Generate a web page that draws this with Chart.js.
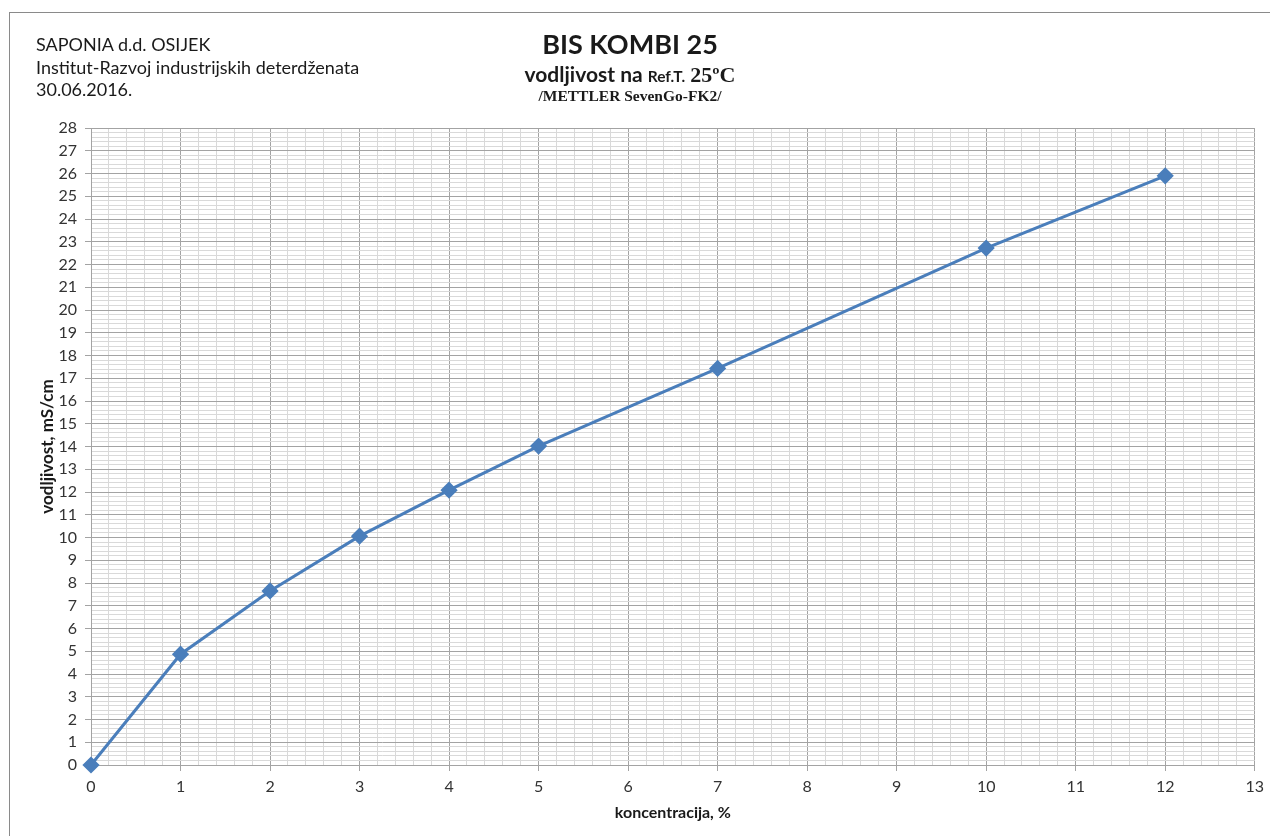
<!DOCTYPE html>
<html>
<head>
<meta charset="utf-8">
<script src="https://cdn.jsdelivr.net/npm/chart.js@4"></script>
<style>
  html, body { margin: 0; padding: 0; background: #fff; }
  #wrap { position: relative; width: 1270px; height: 836px; overflow: hidden; background: #fff; }
  #frame { position: absolute; left: 9px; top: 12px; width: 1300px; height: 900px; border-top: 1px solid #8a8a8a; border-left: 1px solid #8a8a8a; }
  canvas { position: absolute; left: 0; top: 0; }
  .hdr { position: absolute; font-family: Lato, "Open Sans", sans-serif; color: #1a1a1a; white-space: nowrap; }
  #left { left: 36px; top: 33px; font-size: 18px; line-height: 22.5px; }
  .ctr { left: 0; width: 1260px; text-align: center; }
  #t1 { top: 27px; font-size: 27px; font-weight: bold; }
  #t2 { top: 61px; font-size: 21px; font-weight: bold; }
  #t2 .small { font-size: 15.5px; font-weight: bold; }
  #t2 .serif { font-family: "Liberation Serif", "DejaVu Serif", serif; font-size: 22px; font-weight: bold; }
  #t3 { top: 87px; font-family: "Liberation Serif", "DejaVu Serif", serif; font-size: 15.5px; font-weight: bold; }
</style>
</head>
<body>
<div id="wrap">
  <canvas id="c" width="1270" height="836"></canvas>
  <div id="frame"></div>
  <div id="left" class="hdr">SAPONIA d.d. OSIJEK<br>Institut-Razvoj industrijskih deterdženata<br>30.06.2016.</div>
  <div id="t1" class="hdr ctr">BIS KOMBI 25</div>
  <div id="t2" class="hdr ctr">vodljivost na <span class="small">Ref.T.</span> <span class="serif">25ºC</span></div>
  <div id="t3" class="hdr ctr">/METTLER SevenGo-FK2/</div>
</div>
<script>
const concentration = [0, 1, 2, 3, 4, 5, 7, 10, 12];
const conductivity = [0, 4.87, 7.65, 10.06, 12.08, 14.02, 17.43, 22.72, 25.9];
const xRange = [0, 13];
const yRange = [0, 28];
const xTitle = 'koncentracija, %';
const yTitle = 'vodljivost, mS/cm';

const isMajor = v => Math.abs(v - Math.round(v)) < 1e-6;
const majorColor = '#a3a3a3';
const minorColor = '#d9d9d9';

const points = concentration.map((x, i) => ({ x: x, y: conductivity[i] }));

new Chart(document.getElementById('c'), {
  type: 'scatter',
  data: {
    datasets: [{
      data: points,
      showLine: true,
      clip: false,
      borderColor: '#4a7ebb',
      backgroundColor: '#4a7ebb',
      borderWidth: 3,
      pointStyle: 'rectRot',
      pointRadius: 6.5,
      pointHoverRadius: 6.5,
      tension: 0
    }]
  },
  options: {
    responsive: false,
    animation: false,
    events: [],
    layout: { padding: { top: 128, right: 13, left: 0, bottom: 0 } },
    plugins: { legend: { display: false }, title: { display: false }, tooltip: { enabled: false } },
    scales: {
      x: {
        type: 'linear',
        min: xRange[0], max: xRange[1],
        afterFit: s => { s.height = 71; },
        ticks: {
          stepSize: 0.2, maxTicksLimit: 1000, autoSkip: false, maxRotation: 0,
          padding: 6,
          color: '#333',
          font: { family: 'Lato', size: 16 },
          callback: v => isMajor(v) ? String(Math.round(v)) : ''
        },
        grid: {
          color: c => isMajor(c.tick.value) ? majorColor : minorColor,
          tickColor: c => isMajor(c.tick.value) ? majorColor : 'rgba(0,0,0,0)',
          tickLength: 6,
          lineWidth: 1
        },
        border: { display: true, color: majorColor },
        title: {
          display: true, text: xTitle, color: '#1a1a1a',
          font: { family: 'Lato', size: 16, weight: 'bold' },
          padding: { top: 0, bottom: 14 }
        }
      },
      y: {
        type: 'linear',
        min: yRange[0], max: yRange[1],
        afterFit: s => { s.width = 91; },
        ticks: {
          stepSize: 0.2, maxTicksLimit: 1000, autoSkip: false,
          padding: 8,
          color: '#333',
          font: { family: 'Lato', size: 16 },
          callback: v => isMajor(v) ? String(Math.round(v)) : ''
        },
        grid: {
          color: c => isMajor(c.tick.value) ? majorColor : minorColor,
          tickColor: c => isMajor(c.tick.value) ? majorColor : 'rgba(0,0,0,0)',
          tickLength: 6,
          lineWidth: 1
        },
        border: { display: true, color: majorColor },
        title: {
          display: true, text: yTitle, color: '#1a1a1a',
          font: { family: 'Lato', size: 17, weight: 'bold' },
          padding: { top: 37, bottom: 0 }
        }
      }
    }
  }
});
</script>
</body>
</html>
